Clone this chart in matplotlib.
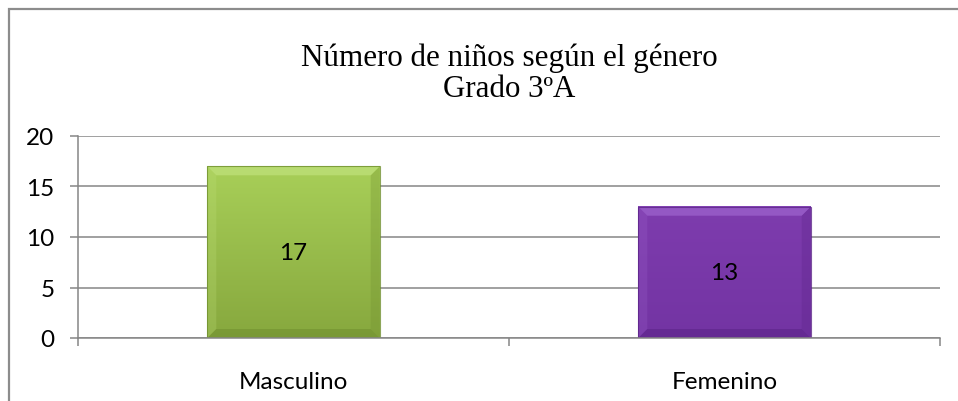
import matplotlib
matplotlib.use("Agg")
import matplotlib.pyplot as plt
import numpy as np
from matplotlib.patches import Polygon, Rectangle
from matplotlib.colors import LinearSegmentedColormap

# ---- data ----
categories = ["Masculino", "Femenino"]
values = [17, 13]
yticks = [0, 5, 10, 15, 20]
title_lines = ["Número de niños según el género", "Grado 3ºA"]

# ---- styles ----
face_top = ["#a8cf58", "#7e3cae"]
face_bot = ["#87a83e", "#7334a3"]
bevel_light = ["#bfe07a", "#9c62cc"]
bevel_dark = ["#71902f", "#5c2489"]
grid_color = "#868686"
label_font = ["Lato", "DejaVu Sans"]
title_font = ["Liberation Serif", "DejaVu Serif"]
label_size = 17.5

W, H = 958, 402
fig = plt.figure(figsize=(W / 100, H / 100), dpi=100)
fig.patch.set_facecolor("white")

# outer chart border (only top & left visible in the crop)
fig.patches.append(Rectangle((8.5 / W, -0.1), 1.2, 1.1 - 9.5 / H, transform=fig.transFigure,
                             fill=False, edgecolor="#8c8c8c", linewidth=1.6, clip_on=False))

ax = fig.add_axes([78 / W, 1 - 339 / H, (940 - 78) / W, (339 - 137) / H])
ax.set_xlim(-0.5, len(categories) - 0.5)
ax.set_ylim(yticks[0], yticks[-1])

x = np.arange(len(categories))
bar_w = 0.4
bars = ax.bar(x, values, width=bar_w, color=face_top, zorder=2, edgecolor="none")

# grid / spines
ax.set_yticks(yticks)
ax.yaxis.grid(True, color=grid_color, linewidth=1.1, zorder=0)
ax.set_axisbelow(True)
for s in ["top", "right"]:
    ax.spines[s].set_visible(False)
for s in ["left", "bottom"]:
    ax.spines[s].set_color(grid_color)
    ax.spines[s].set_linewidth(1.1)
ax.tick_params(axis="y", length=6, width=1.1, color=grid_color, pad=11,
               labelsize=label_size, labelcolor="black")
for t in ax.get_yticklabels():
    t.set_fontfamily(label_font)

ax.set_xticks(x)
ax.set_xticklabels(categories, fontsize=label_size, family=label_font)
ax.set_xticks(np.arange(-0.5, len(categories), 1.0), minor=True)
ax.tick_params(axis="x", which="major", length=0, pad=24)
ax.tick_params(axis="x", which="minor", length=5.5, width=1.1, color=grid_color)

fig.canvas.draw()

# bevel / gradient effect derived from each bar's geometry
bev_px = 9
for i, b in enumerate(bars):
    x0, y0 = b.get_x(), b.get_y()
    x1, y1 = x0 + b.get_width(), y0 + b.get_height()
    (px0, py0) = ax.transData.transform((x0, y0))
    inv = ax.transData.inverted()
    dx = inv.transform((px0 + bev_px, py0))[0] - x0
    dy = y0 - inv.transform((px0, py0 - bev_px))[1]
    cmap = LinearSegmentedColormap.from_list("g", [face_bot[i], face_top[i]])
    grad = np.linspace(0, 1, 200).reshape(-1, 1)
    ax.imshow(grad, extent=(x0, x1, y0, y1), origin="lower", cmap=cmap,
              aspect="auto", zorder=2.1, interpolation="nearest")
    top = [(x0, y1), (x1, y1), (x1 - dx, y1 - dy), (x0 + dx, y1 - dy)]
    bot = [(x0, y0), (x1, y0), (x1 - dx, y0 + dy), (x0 + dx, y0 + dy)]
    left = [(x0, y0), (x0, y1), (x0 + dx, y1 - dy), (x0 + dx, y0 + dy)]
    right = [(x1, y0), (x1, y1), (x1 - dx, y1 - dy), (x1 - dx, y0 + dy)]
    ax.add_patch(Polygon(left, closed=True, facecolor=bevel_light[i], alpha=0.25,
                         edgecolor="none", zorder=2.2))
    ax.add_patch(Polygon(right, closed=True, facecolor=bevel_dark[i], alpha=0.3,
                         edgecolor="none", zorder=2.2))
    ax.add_patch(Polygon(top, closed=True, facecolor=bevel_light[i], alpha=0.75,
                         edgecolor="none", zorder=2.3))
    ax.add_patch(Polygon(bot, closed=True, facecolor=bevel_dark[i], alpha=0.6,
                         edgecolor="none", zorder=2.3))
    ax.add_patch(Rectangle((x0, y0), x1 - x0, y1 - y0, facecolor="none",
                           edgecolor=bevel_dark[i], linewidth=0.8, alpha=0.8, zorder=2.4))
    ax.text(b.get_x() + b.get_width() / 2, y0 + b.get_height() / 2, str(values[i]),
            ha="center", va="center", fontsize=label_size, family=label_font, zorder=3)

ax.set_xlim(-0.5, len(categories) - 0.5)
ax.set_ylim(yticks[0], yticks[-1])

fig.text(509 / W, 1 - 74 / H, "\n".join(title_lines), ha="center", va="center",
         fontsize=22.3, family=title_font, linespacing=1.1)

fig.savefig("out.png", dpi=100, facecolor="white")
